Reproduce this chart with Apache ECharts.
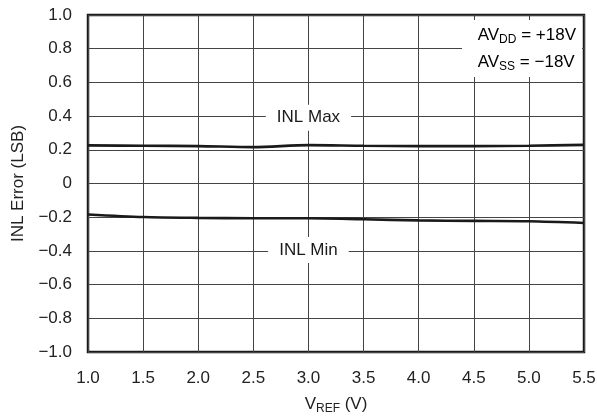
<!DOCTYPE html>
<html><head><meta charset="utf-8">
<script src="https://cdn.jsdelivr.net/npm/echarts@6/dist/echarts.min.js"></script>
<style>html,body{margin:0;padding:0;background:#fff}#c{width:597px;height:417px}</style>
</head><body><div id="c"></div>
<script>
const vref = [1.0, 1.5, 2.0, 2.5, 3.0, 3.5, 4.0, 4.5, 5.0, 5.5];
const inlMax = [0.226, 0.224, 0.222, 0.216, 0.228, 0.224, 0.222, 0.222, 0.224, 0.229];
const inlMin = [-0.184, -0.199, -0.204, -0.206, -0.206, -0.212, -0.219, -0.222, -0.224, -0.234];
const labelNames = ['INL Max', 'INL Min'];
const labelPos = [[3.0, 0.39], [3.0, -0.395]];
const F = '"Liberation Sans", Arial, sans-serif';
const FS = 17;
const fmt = v => { const s = Math.abs(v) < 1e-9 ? '0' : Math.abs(v).toFixed(1); return v < -1e-9 ? '\u2212' + s : s; };
const chart = echarts.init(document.getElementById('c'));
chart.setOption({
  animation: false,
  grid: { left: 88, right: 13, top: 15, bottom: 65, containLabel: false, outerBoundsMode: 'none',
    show: true, borderColor: '#1a1a1a', borderWidth: 2.5, backgroundColor: 'transparent' },
  xAxis: {
    type: 'value', min: 1.0, max: 5.5, interval: 0.5,
    axisLine: { show: false }, axisTick: { show: false },
    splitLine: { show: true, lineStyle: { color: '#444', width: 1 } },
    axisLabel: { formatter: v => v.toFixed(1), color: '#222', fontFamily: F, fontSize: FS, margin: 18 },
    name: '{a|V}{s|REF}{a| (V)}', nameLocation: 'middle', nameGap: 42,
    nameTextStyle: { rich: {
      a: { fontFamily: F, fontSize: FS, color: '#222' },
      s: { fontFamily: F, fontSize: 12, color: '#222', padding: [9, 0, 0, 0] } } }
  },
  yAxis: {
    type: 'value', min: -1.0, max: 1.0, interval: 0.2,
    axisLine: { show: false }, axisTick: { show: false },
    splitLine: { show: true, lineStyle: { color: '#444', width: 1 } },
    axisLabel: { formatter: fmt, color: '#222', fontFamily: F, fontSize: FS, margin: 16 },
    name: 'INL Error (LSB)', nameLocation: 'middle', nameGap: 61,
    nameTextStyle: { fontFamily: F, fontSize: FS, color: '#222' }
  },
  series: [
    { type: 'line', data: vref.map((x, i) => [x, inlMax[i]]), showSymbol: false, smooth: 0.3,
      lineStyle: { color: '#1a1a1a', width: 2.6 } },
    { type: 'line', data: vref.map((x, i) => [x, inlMin[i]]), showSymbol: false, smooth: 0.3,
      lineStyle: { color: '#1a1a1a', width: 2.6 } },
    { type: 'scatter', silent: true, z: 5, symbolSize: 1, itemStyle: { color: '#fff', opacity: 1 },
      data: labelPos.map((p, i) => ({ value: p, name: labelNames[i] })),
      label: { show: true, position: 'inside', formatter: p => p.name, color: '#1a1a1a', opacity: 1,
        fontFamily: F, fontSize: FS, backgroundColor: '#fff', padding: [5, 11, 4, 11] } }
  ],
  graphic: [
    { type: 'rect', shape: { x: 462, y: 20, width: 120, height: 57 }, style: { fill: '#fff' }, z: 100 },
    { type: 'text', right: 21, top: 25, z: 101, style: {
      text: '{a|AV}{s|DD}{a| = +18V}\n{a|AV}{s|SS}{a| = \u221218V}', align: 'right',
      rich: {
        a: { fontFamily: F, fontSize: FS, color: '#1a1a1a', lineHeight: 27 },
        s: { fontFamily: F, fontSize: 12, color: '#1a1a1a', lineHeight: 27, padding: [9, 0, 0, 0] } } } }
  ]
});
</script></body></html>
